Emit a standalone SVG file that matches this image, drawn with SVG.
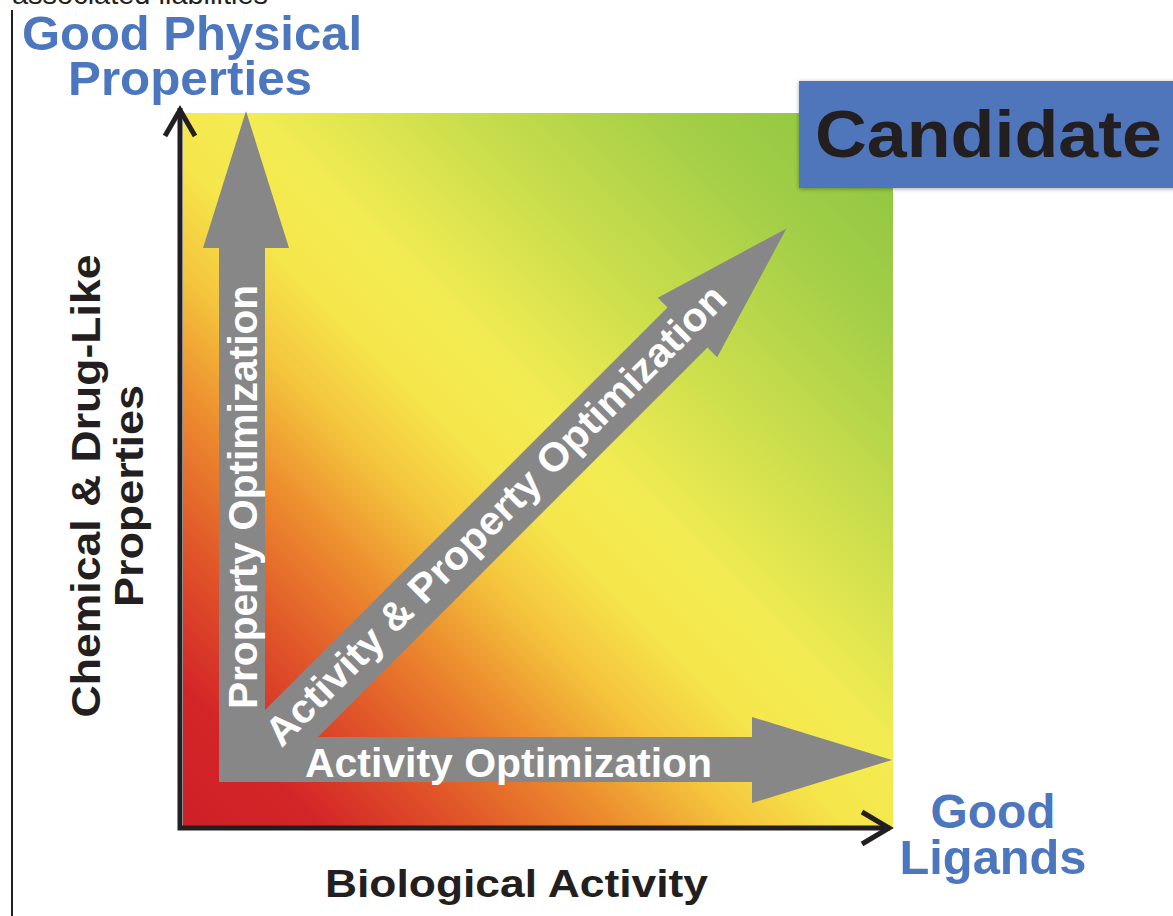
<svg xmlns="http://www.w3.org/2000/svg" width="1173" height="916" viewBox="0 0 1173 916">
  <defs>
    <linearGradient id="field" gradientUnits="userSpaceOnUse" x1="183" y1="827" x2="893" y2="113">
      <stop offset="0" stop-color="#cf1f27"/>
      <stop offset="0.1" stop-color="#d32628"/>
      <stop offset="0.2" stop-color="#e05428"/>
      <stop offset="0.3" stop-color="#ec8a2e"/>
      <stop offset="0.39" stop-color="#f4c43c"/>
      <stop offset="0.47" stop-color="#f5e64b"/>
      <stop offset="0.55" stop-color="#f2ec52"/>
      <stop offset="0.7" stop-color="#c8dd4c"/>
      <stop offset="0.85" stop-color="#a2ce47"/>
      <stop offset="1" stop-color="#8bc53f"/>
    </linearGradient>
    <filter id="shadow" x="-5%" y="-20%" width="115%" height="150%">
      <feDropShadow dx="0" dy="1" stdDeviation="2" flood-color="#000" flood-opacity="0.35"/>
    </filter>
  </defs>
  <style>
    text { font-family: "Liberation Sans", Arial, Helvetica, sans-serif; font-weight: bold; }
    .blue { fill: #4c76bd; font-size: 48px; }
    .dark { fill: #231f20; }
    .white { fill: #ffffff; font-size: 40px; }
    .axis { fill: none; stroke: #231f20; stroke-width: 5; stroke-linecap: butt; stroke-linejoin: miter; }
  </style>
  <rect width="1173" height="916" fill="#ffffff"/>

  <g id="header">
    <text x="12" y="4" style="font-weight:normal" font-size="28" class="dark" textLength="256" lengthAdjust="spacingAndGlyphs">associated liabilities</text>
    <line x1="12" y1="10" x2="12" y2="916" stroke="#231f20" stroke-width="2"/>
  </g>

  <g id="field-area">
    <rect x="183" y="113" width="710" height="714" fill="url(#field)"/>
  </g>

  <g id="connectors">
    <path id="optimization-arrows" fill="#878787" d="M219,782 L219,248 L203,248 L246,111 L289,248 L265,248 L265,710 L667.5,307.5 L657.8,297.8 L786.5,228.5 L717.2,357.2 L707.5,347.5 L318,737 L752,737 L752,717 L892,760 L752,803 L752,782 Z"/>
    <g id="axes">
      <polyline class="axis" points="180,108 180,828 890,828"/>
      <polyline class="axis" points="165,136 180,110 195,136"/>
      <polyline class="axis" points="862,812 889,828 862,844"/>
    </g>
  </g>

  <g id="arrow-labels">
    <text class="white" x="305" y="777" textLength="407" lengthAdjust="spacingAndGlyphs">Activity Optimization</text>
    <text class="white" transform="translate(257,709) rotate(-90)" textLength="424" lengthAdjust="spacingAndGlyphs">Property Optimization</text>
    <text class="white" transform="translate(281.5,748.5) rotate(-45)" textLength="633" lengthAdjust="spacingAndGlyphs">Activity &amp; Property Optimization</text>
  </g>

  <g id="node-candidate">
    <rect x="799" y="81" width="380" height="107" fill="#4f75bb" filter="url(#shadow)"/>
    <text class="dark" x="815" y="157" font-size="66" textLength="347" lengthAdjust="spacingAndGlyphs">Candidate</text>
  </g>

  <g id="node-good-physical">
    <text class="blue" x="192" y="50" text-anchor="middle" textLength="340" lengthAdjust="spacingAndGlyphs">Good Physical</text>
    <text class="blue" x="190" y="95" text-anchor="middle" textLength="244" lengthAdjust="spacingAndGlyphs">Properties</text>
  </g>

  <g id="node-good-ligands">
    <text class="blue" x="993" y="828" text-anchor="middle" textLength="125" lengthAdjust="spacingAndGlyphs">Good</text>
    <text class="blue" x="993" y="874" text-anchor="middle" textLength="187" lengthAdjust="spacingAndGlyphs">Ligands</text>
  </g>

  <g id="node-y-axis-label">
    <text class="dark" font-size="40" transform="translate(100,486) rotate(-90)" text-anchor="middle" textLength="463" lengthAdjust="spacingAndGlyphs">Chemical &amp; Drug-Like</text>
    <text class="dark" font-size="40" transform="translate(143,496) rotate(-90)" text-anchor="middle" textLength="222" lengthAdjust="spacingAndGlyphs">Properties</text>
  </g>

  <g id="node-x-axis-label">
    <text class="dark" font-size="38" x="325" y="897" textLength="383" lengthAdjust="spacingAndGlyphs">Biological Activity</text>
  </g>
</svg>
